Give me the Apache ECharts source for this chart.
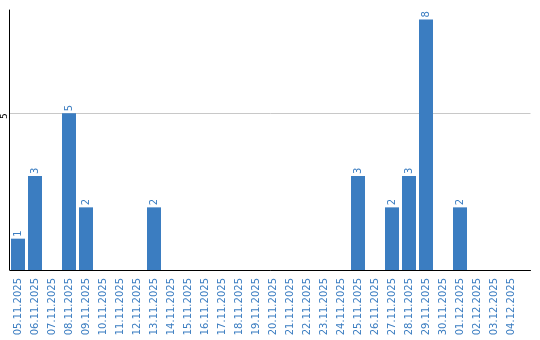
<!DOCTYPE html>
<html><head><meta charset="utf-8">
<script src="https://cdn.jsdelivr.net/npm/echarts@6/dist/echarts.min.js"></script>
<style>html,body{margin:0;padding:0;background:#fff}#c{width:540px;height:340px}</style>
</head><body><div id="c"></div>
<script>
const categories = ["05.11.2025","06.11.2025","07.11.2025","08.11.2025","09.11.2025","10.11.2025","11.11.2025","12.11.2025","13.11.2025","14.11.2025","15.11.2025","16.11.2025","17.11.2025","18.11.2025","19.11.2025","20.11.2025","21.11.2025","22.11.2025","23.11.2025","24.11.2025","25.11.2025","26.11.2025","27.11.2025","28.11.2025","29.11.2025","30.11.2025","01.12.2025","02.12.2025","03.12.2025","04.12.2025"];
const values = [1,3,0,5,2,0,0,0,2,0,0,0,0,0,0,0,0,0,0,0,3,0,2,3,8,0,2,0,0,0];
const yMax = 8.3;
const yInterval = 5;
const blue = '#3b7dc1';
const plotTop = 10, plotH = 260;
const gridTop5 = plotTop + plotH * (yMax - yInterval) / yMax;
const chart = echarts.init(document.getElementById('c'), null, {renderer:'canvas'});
chart.setOption({
  animation:false,
  grid:[
    {left:9.5, top:plotTop, width:510, height:plotH, outerBoundsMode:'none', containLabel:false},
    {left:10, top:gridTop5, width:520.5, height:plotTop + plotH - gridTop5, outerBoundsMode:'none', containLabel:false}
  ],
  xAxis:[
    {type:'category', gridIndex:0, data:categories, boundaryGap:true,
     axisLine:{show:false}, axisTick:{show:false},
     axisLabel:{rotate:90, interval:0, color:blue, fontFamily:'DejaVu Sans', fontSize:10, margin:8}},
    {type:'category', gridIndex:1, data:[''], axisLine:{show:true, lineStyle:{color:'#000', width:1}},
     axisTick:{show:false}, axisLabel:{show:false}}
  ],
  yAxis:[
    {type:'value', gridIndex:0, min:0, max:yMax, interval:yInterval,
     axisLine:{show:true, lineStyle:{color:'#000', width:1}}, axisTick:{show:false},
     splitLine:{show:false},
     axisLabel:{rotate:90, align:'right', verticalAlign:'middle', color:'#000', fontFamily:'DejaVu Sans', fontSize:9, lineHeight:9, margin:5,
       formatter:v=> v===yInterval ? String(v) : '', showMaxLabel:false}},
    {type:'value', gridIndex:1, min:0, max:yInterval, interval:yInterval,
     axisLine:{show:false}, axisTick:{show:false}, axisLabel:{show:false},
     splitLine:{show:true, lineStyle:{color:'#c8c8c8', width:1}}}
  ],
  series:[{
    type:'bar', xAxisIndex:0, yAxisIndex:0, data:values, barWidth:14,
    itemStyle:{color:blue},
    label:{show:true, position:'top', rotate:90, align:'left', verticalAlign:'middle', distance:2,
      color:blue, fontFamily:'DejaVu Sans', fontSize:10,
      formatter:p=> p.value===0 ? '' : String(p.value)}
  }]
});
</script></body></html>
